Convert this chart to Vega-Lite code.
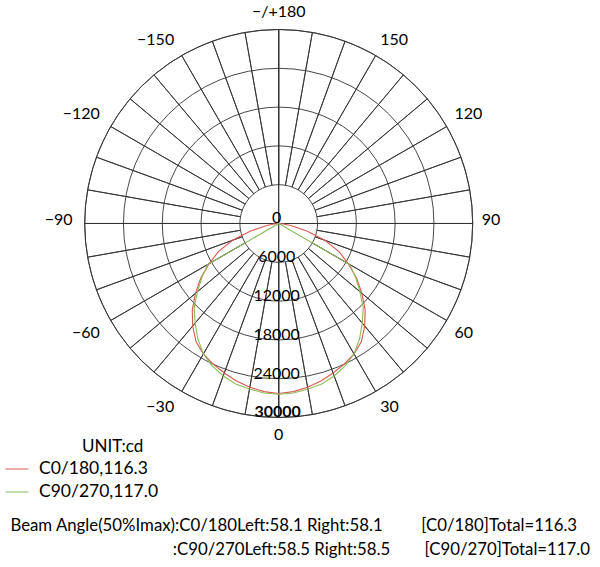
{
  "$schema": "https://vega.github.io/schema/vega-lite/v6.json",
  "width": 600,
  "height": 515,
  "padding": 0,
  "background": "white",
  "config": {"view": {"stroke": null}, "font": "Lato"},
  "title": {
    "text": [
      "Beam Angle(50%Imax):C0/180Left:58.1 Right:58.1\u00a0\u00a0\u00a0\u00a0\u00a0\u00a0\u00a0\u00a0\u00a0[C0/180]Total=116.3\u00a0\u00a0\u00a0\u200b",
      ":C90/270Left:58.5 Right:58.5\u00a0\u00a0\u00a0\u00a0\u00a0\u00a0\u00a0\u00a0[C90/270]Total=117.0"
    ],
    "orient": "bottom",
    "anchor": "end",
    "align": "right",
    "frame": "group",
    "font": "Lato",
    "fontSize": 16.8,
    "fontWeight": "normal",
    "lineHeight": 24,
    "offset": 3,
    "dx": -10,
    "color": "#000000"
  },
  "layer": [
    {
      "data": {"values": [
        {"g1": 180, "g2": 90}, {"g1": 90, "g2": 0}, {"g1": 0, "g2": -90}, {"g1": -90, "g2": -180}
      ]},
      "mark": {"type": "arc", "filled": false, "stroke": "#333333", "strokeWidth": 0.9},
      "encoding": {
        "x": {"datum": 0, "type": "quantitative", "scale": {"domain": [-43098, 49686], "nice": false, "zero": false}, "axis": null},
        "y": {"datum": 0, "type": "quantitative", "scale": {"domain": [-45078, 34562], "nice": false, "zero": false}, "axis": null},
        "theta": {"field": "g1", "type": "quantitative", "scale": {"domain": [180, -180], "range": [0, 6.283185307179586]}, "stack": null},
        "theta2": {"field": "g2"},
        "radius": {"datum": 30000, "type": "quantitative", "scale": {"domain": [0, 30000], "range": [0, 194], "zero": true}},
        "radius2": {"datum": 0}
      }
    },
    {
      "data": {"values": [
        {"g1": -180, "g2": -170}, {"g1": -170, "g2": -160}, {"g1": -160, "g2": -150}, {"g1": -150, "g2": -140},
        {"g1": -140, "g2": -130}, {"g1": -130, "g2": -120}, {"g1": -120, "g2": -110}, {"g1": -110, "g2": -100},
        {"g1": -100, "g2": -90}, {"g1": -90, "g2": -80}, {"g1": -80, "g2": -70}, {"g1": -70, "g2": -60},
        {"g1": -60, "g2": -50}, {"g1": -50, "g2": -40}, {"g1": -40, "g2": -30}, {"g1": -30, "g2": -20},
        {"g1": -20, "g2": -10}, {"g1": -10, "g2": 0}, {"g1": 0, "g2": 10}, {"g1": 10, "g2": 20},
        {"g1": 20, "g2": 30}, {"g1": 30, "g2": 40}, {"g1": 40, "g2": 50}, {"g1": 50, "g2": 60},
        {"g1": 60, "g2": 70}, {"g1": 70, "g2": 80}, {"g1": 80, "g2": 90}, {"g1": 90, "g2": 100},
        {"g1": 100, "g2": 110}, {"g1": 110, "g2": 120}, {"g1": 120, "g2": 130}, {"g1": 130, "g2": 140},
        {"g1": 140, "g2": 150}, {"g1": 150, "g2": 160}, {"g1": 160, "g2": 170}, {"g1": 170, "g2": 180}
      ]},
      "mark": {"type": "arc", "filled": false, "stroke": "#333333", "strokeWidth": 0.9},
      "encoding": {
        "x": {"datum": 0, "type": "quantitative", "axis": null},
        "y": {"datum": 0, "type": "quantitative", "axis": null},
        "theta": {"field": "g1", "type": "quantitative", "stack": null},
        "theta2": {"field": "g2"},
        "radius": {"datum": 30000, "type": "quantitative"},
        "radius2": {"datum": 6000}
      }
    },
    {
      "data": {"values": [{"r": 12000}, {"r": 18000}, {"r": 24000}]},
      "mark": {"type": "arc", "filled": false, "stroke": "#333333", "strokeWidth": 0.9},
      "encoding": {
        "x": {"datum": 0, "type": "quantitative", "axis": null},
        "y": {"datum": 0, "type": "quantitative", "axis": null},
        "theta": {"datum": 180, "type": "quantitative", "stack": null},
        "theta2": {"datum": -180},
        "radius": {"field": "r", "type": "quantitative"},
        "radius2": {"datum": 0}
      }
    },
    {
      "data": {"values": [
        {"s": "C0/180,116.3", "g": -90, "i": 0}, {"s": "C0/180,116.3", "g": -85, "i": 600},
        {"s": "C0/180,116.3", "g": -80, "i": 2000}, {"s": "C0/180,116.3", "g": -75, "i": 4500},
        {"s": "C0/180,116.3", "g": -70, "i": 7600}, {"s": "C0/180,116.3", "g": -65, "i": 10300},
        {"s": "C0/180,116.3", "g": -60, "i": 12400}, {"s": "C0/180,116.3", "g": -55, "i": 14700},
        {"s": "C0/180,116.3", "g": -50, "i": 16800}, {"s": "C0/180,116.3", "g": -45, "i": 18900},
        {"s": "C0/180,116.3", "g": -40, "i": 20700}, {"s": "C0/180,116.3", "g": -35, "i": 22300},
        {"s": "C0/180,116.3", "g": -30, "i": 23300}, {"s": "C0/180,116.3", "g": -25, "i": 24000},
        {"s": "C0/180,116.3", "g": -20, "i": 24600}, {"s": "C0/180,116.3", "g": -15, "i": 25200},
        {"s": "C0/180,116.3", "g": -10, "i": 25700}, {"s": "C0/180,116.3", "g": -5, "i": 26100},
        {"s": "C0/180,116.3", "g": 0, "i": 26300}, {"s": "C0/180,116.3", "g": 5, "i": 26100},
        {"s": "C0/180,116.3", "g": 10, "i": 25700}, {"s": "C0/180,116.3", "g": 15, "i": 25200},
        {"s": "C0/180,116.3", "g": 20, "i": 24600}, {"s": "C0/180,116.3", "g": 25, "i": 24000},
        {"s": "C0/180,116.3", "g": 30, "i": 23300}, {"s": "C0/180,116.3", "g": 35, "i": 22300},
        {"s": "C0/180,116.3", "g": 40, "i": 20700}, {"s": "C0/180,116.3", "g": 45, "i": 18900},
        {"s": "C0/180,116.3", "g": 50, "i": 16800}, {"s": "C0/180,116.3", "g": 55, "i": 14700},
        {"s": "C0/180,116.3", "g": 60, "i": 12400}, {"s": "C0/180,116.3", "g": 65, "i": 10300},
        {"s": "C0/180,116.3", "g": 70, "i": 7600}, {"s": "C0/180,116.3", "g": 75, "i": 4500},
        {"s": "C0/180,116.3", "g": 80, "i": 2000}, {"s": "C0/180,116.3", "g": 85, "i": 600},
        {"s": "C0/180,116.3", "g": 90, "i": 0},
        {"s": "C90/270,117.0", "g": -90, "i": 0}, {"s": "C90/270,117.0", "g": -85, "i": 0},
        {"s": "C90/270,117.0", "g": -80, "i": 0}, {"s": "C90/270,117.0", "g": -75, "i": 0},
        {"s": "C90/270,117.0", "g": -70, "i": 0}, {"s": "C90/270,117.0", "g": -65, "i": 0},
        {"s": "C90/270,117.0", "g": -60, "i": 12700}, {"s": "C90/270,117.0", "g": -55, "i": 14500},
        {"s": "C90/270,117.0", "g": -50, "i": 16400}, {"s": "C90/270,117.0", "g": -45, "i": 18500},
        {"s": "C90/270,117.0", "g": -40, "i": 20100}, {"s": "C90/270,117.0", "g": -35, "i": 21800},
        {"s": "C90/270,117.0", "g": -30, "i": 23300}, {"s": "C90/270,117.0", "g": -25, "i": 24300},
        {"s": "C90/270,117.0", "g": -20, "i": 25100}, {"s": "C90/270,117.0", "g": -15, "i": 25700},
        {"s": "C90/270,117.0", "g": -10, "i": 26000}, {"s": "C90/270,117.0", "g": -5, "i": 26300},
        {"s": "C90/270,117.0", "g": 0, "i": 26400}, {"s": "C90/270,117.0", "g": 5, "i": 26300},
        {"s": "C90/270,117.0", "g": 10, "i": 26000}, {"s": "C90/270,117.0", "g": 15, "i": 25700},
        {"s": "C90/270,117.0", "g": 20, "i": 25100}, {"s": "C90/270,117.0", "g": 25, "i": 24300},
        {"s": "C90/270,117.0", "g": 30, "i": 23300}, {"s": "C90/270,117.0", "g": 35, "i": 21800},
        {"s": "C90/270,117.0", "g": 40, "i": 20100}, {"s": "C90/270,117.0", "g": 45, "i": 18500},
        {"s": "C90/270,117.0", "g": 50, "i": 16400}, {"s": "C90/270,117.0", "g": 55, "i": 14500},
        {"s": "C90/270,117.0", "g": 60, "i": 12700}, {"s": "C90/270,117.0", "g": 65, "i": 0},
        {"s": "C90/270,117.0", "g": 70, "i": 0}, {"s": "C90/270,117.0", "g": 75, "i": 0},
        {"s": "C90/270,117.0", "g": 80, "i": 0}, {"s": "C90/270,117.0", "g": 85, "i": 0},
        {"s": "C90/270,117.0", "g": 90, "i": 0}
      ]},
      "transform": [
        {"calculate": "datum.i * sin(datum.g * PI / 180)", "as": "px"},
        {"calculate": "-datum.i * cos(datum.g * PI / 180)", "as": "py"}
      ],
      "mark": {"type": "line", "strokeWidth": 1.1},
      "encoding": {
        "x": {"field": "px", "type": "quantitative", "axis": null},
        "y": {"field": "py", "type": "quantitative", "axis": null},
        "order": {"field": "g", "type": "quantitative"},
        "color": {
          "field": "s", "type": "nominal",
          "scale": {"domain": ["C0/180,116.3", "C90/270,117.0"], "range": ["#d65a50", "#8dbb5a"]},
          "legend": {
            "orient": "none", "legendX": 5, "legendY": 439, "direction": "vertical",
            "title": "UNIT:cd", "titleAnchor": "middle", "titleAlign": "left", "titleFontSize": 17, "titleFontWeight": "normal",
            "titleColor": "#000000", "titlePadding": 1,
            "labelFontSize": 17.5, "labelColor": "#000000", "labelOffset": 10,
            "symbolType": "stroke", "symbolSize": 529, "symbolStrokeWidth": 1, "rowPadding": 2
          }
        }
      }
    },
    {
      "data": {"values": [
        {"g": 180, "t": "−/+180"}, {"g": 150, "t": "150"}, {"g": 120, "t": "120"}, {"g": 90, "t": "90"},
        {"g": 60, "t": "60"}, {"g": 30, "t": "30"}, {"g": 0, "t": "0"}, {"g": -30, "t": "−30"},
        {"g": -60, "t": "−60"}, {"g": -90, "t": "−90"}, {"g": -120, "t": "−120"}, {"g": -150, "t": "−150"}
      ]},
      "mark": {
        "type": "text", "fontSize": 16, "color": "#000000",
        "align": {"expr": "datum.g == 180 || datum.g == 0 ? 'center' : (datum.g > 0 ? 'left' : 'right')"},
        "baseline": {"expr": "abs(datum.g) > 90 ? 'bottom' : (abs(datum.g) == 90 ? 'middle' : 'top')"},
        "dx": {"expr": "datum.g < 0 && datum.g > -180 ? -3 : 0"},
        "dy": {"expr": "abs(datum.g) == 90 ? -3 : 0"}
      },
      "encoding": {
        "x": {"datum": 0, "type": "quantitative", "axis": null},
        "y": {"datum": 0, "type": "quantitative", "axis": null},
        "theta": {"field": "g", "type": "quantitative", "stack": null},
        "radius": {"datum": 31400, "type": "quantitative"},
        "text": {"field": "t"}
      }
    },
    {
      "data": {"values": [
        {"v": 0, "t": "0"}, {"v": 6000, "t": "6000"}, {"v": 12000, "t": "12000"},
        {"v": 18000, "t": "18000"}, {"v": 24000, "t": "24000"}
      ]},
      "mark": {"type": "text", "fontSize": 16, "align": "center", "baseline": "alphabetic", "dx": -2, "color": "#000000"},
      "encoding": {
        "x": {"datum": 0, "type": "quantitative", "axis": null},
        "y": {"datum": 0, "type": "quantitative", "axis": null},
        "theta": {"datum": 0, "type": "quantitative", "stack": null},
        "radius": {"field": "v", "type": "quantitative"},
        "text": {"field": "t"}
      }
    },
    {
      "data": {"values": [{"v": 30000, "t": "30000"}]},
      "mark": {"type": "text", "fontSize": 16, "fontWeight": "bold", "align": "center", "baseline": "alphabetic", "dx": -1, "color": "#000000"},
      "encoding": {
        "x": {"datum": 0, "type": "quantitative", "axis": null},
        "y": {"datum": 0, "type": "quantitative", "axis": null},
        "theta": {"datum": 0, "type": "quantitative", "stack": null},
        "radius": {"field": "v", "type": "quantitative"},
        "text": {"field": "t"}
      }
    }
  ]
}
